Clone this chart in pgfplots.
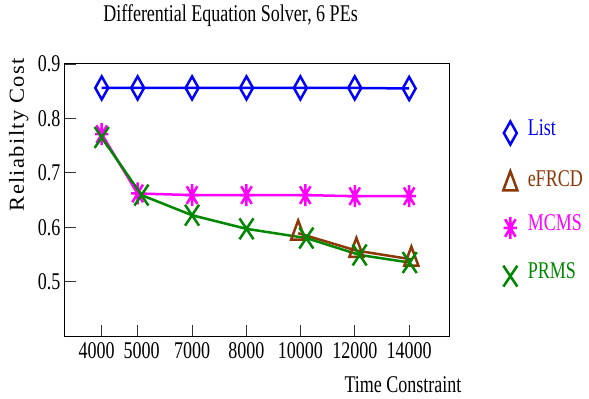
\documentclass[border=0pt]{standalone}
\usepackage{fontspec}
\usepackage{graphicx}
\setmainfont{Liberation Serif}[FakeStretch=0.75]
\newfontfamily\ylfont{Liberation Serif}[LetterSpace=6]
\usepackage{pgfplots}
\pgfplotsset{compat=1.18}
\definecolor{cList}{RGB}{0,0,255}
\definecolor{cEF}{RGB}{140,55,5}
\definecolor{cMC}{RGB}{255,0,255}
\definecolor{cPR}{RGB}{0,135,0}
\pgfdeclareplotmark{gstar}{%
 \pgfpathmoveto{\pgfqpoint{0pt}{\pgfplotmarksize}}\pgfpathlineto{\pgfqpoint{0pt}{-\pgfplotmarksize}}%
 \pgfpathmoveto{\pgfqpoint{\pgfplotmarksize}{0pt}}\pgfpathlineto{\pgfqpoint{-\pgfplotmarksize}{0pt}}%
 \pgfpathmoveto{\pgfqpoint{.8\pgfplotmarksize}{.8\pgfplotmarksize}}\pgfpathlineto{\pgfqpoint{-.8\pgfplotmarksize}{-.8\pgfplotmarksize}}%
 \pgfpathmoveto{\pgfqpoint{-.8\pgfplotmarksize}{.8\pgfplotmarksize}}\pgfpathlineto{\pgfqpoint{.8\pgfplotmarksize}{-.8\pgfplotmarksize}}%
 \pgfusepathqstroke}
\begin{document}
\begin{tikzpicture}
\path[use as bounding box] (-65bp,-63bp) rectangle (524bp,336bp);
\begin{axis}[
  at={(0,0)}, anchor=south west,
  scale only axis, width=385bp, height=272bp,
  font=\fontsize{24bp}{28bp}\selectfont,
  /pgf/number format/assume math mode=true,
  /pgf/number format/fixed,
  /pgf/number format/precision=1,
  xmin=-0.675, xmax=6.40, ymin=0.4, ymax=0.9,
  xtick={0,0.66,1.66,2.66,3.65,4.65,5.65},
  xticklabels={\kern-10bp 4000,5000\kern-8bp,7000,8000,10000,12000,14000},
  ytick={0.5,0.6,0.7,0.8,0.9},
  tick pos=left, tick align=inside,
  major tick length=11bp,
  tick style={black!80, line width=0.8bp},
  axis line style={black, line width=1bp},
  xticklabel style={font=\fontsize{24bp}{28bp}\selectfont, yshift=-3bp},
  yticklabel style={font=\fontsize{24bp}{28bp}\selectfont, xshift=-1bp},
  title={Differential Equation Solver, 6 PEs},
  title style={at={(axis description cs:0.43,1.155)}, anchor=center, font=\fontsize{24bp}{28bp}\selectfont},
  xlabel={Time Constraint},
  xlabel style={at={(axis description cs:0.878,-0.18)}, anchor=center, font=\fontsize{24bp}{28bp}\selectfont},
  ylabel={\scalebox{1}[0.95]{\ylfont\fontsize{22.5bp}{26bp}\selectfont Reliabilty Cost}},
  ylabel style={at={(axis description cs:-0.12,0.74)}, anchor=center},
  legend style={draw=none, fill=none, at={(axis description cs:1.125,0.485)}, anchor=west,
    inner sep=0pt, row sep=26.7bp, nodes={inner sep=0pt, text height=0.7em, text depth=0.2em},
    font=\fontsize{24bp}{28bp}\selectfont},
  legend cell align=left,
  legend image code/.code={\draw[#1] plot coordinates {(0.38cm,0cm)};\path (0cm,0cm) (0.95cm,0cm);},
  clip=false,
]
\addplot[cList, line width=2.5bp, mark=diamond, mark size=11.5bp, mark options={xscale=0.75, solid, fill=none}]
 coordinates {(0,0.856) (0.66,0.856) (1.66,0.856) (2.66,0.856) (3.65,0.856) (4.65,0.856) (5.65,0.855)};
\addplot[cEF, line width=2.5bp, mark=triangle, mark size=12.7bp, mark options={xscale=0.64, solid, fill=none}]
 coordinates {(3.61,0.589) (4.68,0.557) (5.69,0.541)};
\addplot[cMC, line width=2.5bp, mark=gstar, mark size=11bp, mark options={xscale=0.6, solid}]
 coordinates {(0,0.771) (0.66,0.662) (1.66,0.659) (2.66,0.659) (3.74,0.659) (4.65,0.657) (5.65,0.657)};
\addplot[cPR, line width=2.5bp, mark=x, mark size=14.8bp, mark options={xscale=0.67, solid}]
 coordinates {(0,0.765) (0.73,0.659) (1.66,0.622) (2.66,0.597) (3.76,0.580) (4.74,0.549) (5.66,0.535)};
\legend{\textcolor{cList}{List},\textcolor{cEF}{eFRCD},\textcolor{cMC}{MCMS},\textcolor{cPR}{PRMS}}
\end{axis}
\end{tikzpicture}
\end{document}
